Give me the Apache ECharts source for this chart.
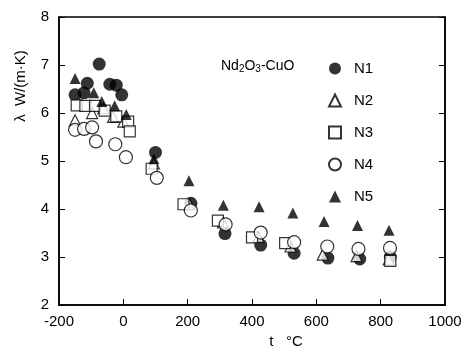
<!DOCTYPE html>
<html>
<head>
<meta charset="utf-8">
<script src="https://cdn.jsdelivr.net/npm/echarts@6/dist/echarts.min.js"></script>
<style>html,body{margin:0;padding:0;background:#fff;}#c{width:467px;height:354px;}</style>
</head>
<body>
<div id="c"></div>
<script>
var xTicks = [-200, 0, 200, 400, 600, 800, 1000];
var yTicks = [2, 3, 4, 5, 6, 7, 8];
var seriesNames = ['N1', 'N2', 'N3', 'N4', 'N5'];
var N1 = [[-150,6.38],[-122,6.42],[-112,6.62],[-75,7.02],[-42,6.6],[-22,6.58],[-5,6.38],[100,5.18],[210,4.12],[316,3.49],[427,3.25],[531,3.08],[636,2.98],[735,2.96],[830,3.0]];
var N2 = [[-150,5.85],[-97,6.0],[-62,6.1],[-32,5.92],[0,5.82],[95,4.95],[205,4.1],[310,3.72],[420,3.42],[520,3.22],[620,3.05],[725,3.02],[825,2.95]];
var N3 = [[-145,6.16],[-118,6.15],[-88,6.15],[-58,6.05],[-22,5.93],[15,5.82],[20,5.62],[88,4.84],[187,4.1],[294,3.76],[400,3.41],[503,3.29],[830,2.92]];
var N4 = [[-150,5.65],[-122,5.67],[-97,5.7],[-85,5.41],[-25,5.35],[8,5.08],[104,4.65],[210,3.97],[318,3.68],[427,3.51],[531,3.31],[634,3.22],[731,3.17],[829,3.19]];
var N5 = [[-150,6.72],[-92,6.42],[-67,6.24],[-27,6.15],[9,5.97],[95,5.05],[204,4.59],[311,4.08],[422,4.05],[527,3.92],[624,3.74],[728,3.66],[826,3.56]];

var font = 'Liberation Sans';
var chart = echarts.init(document.getElementById('c'));
function filled(sym, size){ return {symbol: sym, symbolSize: size, itemStyle: {color: '#000', borderColor: '#000', borderWidth: 0}}; }
function hollow(sym, size){ return {symbol: sym, symbolSize: size, itemStyle: {color: '#fff', borderColor: '#000', borderWidth: 1.2}}; }
var styles = [filled('circle', 13), hollow('triangle', 11), hollow('rect', 11), hollow('circle', 13), filled('triangle', 11)];
var datas = [N1, N2, N3, N4, N5];
var series = seriesNames.map(function(n, i){
  return {name: n, type: 'scatter', data: datas[i], symbol: styles[i].symbol, symbolSize: styles[i].symbolSize, itemStyle: styles[i].itemStyle, emphasis: {disabled: true}, z: [2,3,3,4,5][i]};
});
chart.setOption({
  animation: false,
  backgroundColor: '#fff',
  grid: {left: 59, right: 22, top: 17, bottom: 41, show: true, borderColor: '#000', borderWidth: 1.5, backgroundColor: 'transparent'},
  title: {
    text: '{a|Nd}{s|2}{a|O}{s|3}{a|-CuO}',
    left: 216, top: 53,
    textStyle: {fontWeight: 'normal', rich: {a: {fontFamily: font, fontSize: 14, fontWeight: 'normal', color: '#000'}, s: {fontFamily: font, fontSize: 10, fontWeight: 'normal', color: '#000', verticalAlign: 'bottom', padding: [6,0,0,0]}}}
  },
  legend: {
    orient: 'vertical', left: 323, top: 56,
    itemWidth: 12, itemHeight: 12, itemGap: 17,
    textStyle: {fontFamily: font, fontSize: 15, color: '#000', padding: [0,0,0,8]},
    data: seriesNames
  },
  xAxis: [{
    type: 'value', min: -200, max: 1000, interval: 200,
    name: 't   °C', nameLocation: 'middle', nameGap: 28,
    nameTextStyle: {fontFamily: font, fontSize: 15, color: '#000', padding: [0,0,0,68]},
    axisLine: {show: true, onZero: false, lineStyle: {color: '#000', width: 1.5}},
    axisTick: {show: true, inside: true, length: 6, lineStyle: {color: '#000'}},
    axisLabel: {fontFamily: font, fontSize: 15, color: '#000', margin: 9, formatter: function(v){ return xTicks.indexOf(v) >= 0 ? String(v) : ''; }},
    splitLine: {show: false}
  }],
  yAxis: [{
    type: 'value', min: 2, max: 8, interval: 1,
    name: 'λ  W/(m·K)', nameLocation: 'middle', nameGap: 31, nameRotate: 90,
    nameTextStyle: {fontFamily: font, fontSize: 15, color: '#000', padding: [0,0,0,150]},
    axisLine: {show: true, onZero: false, lineStyle: {color: '#000', width: 1.5}},
    axisTick: {show: true, inside: true, length: 6, lineStyle: {color: '#000'}},
    axisLabel: {fontFamily: font, fontSize: 15, color: '#000', margin: 10, formatter: function(v){ return yTicks.indexOf(v) >= 0 ? String(v) : ''; }},
    splitLine: {show: false}
  }, {
    type: 'value', min: 2, max: 8, interval: 1, position: 'right',
    axisLine: {show: true, onZero: false, lineStyle: {color: '#000', width: 1.5}},
    axisTick: {show: true, inside: true, length: 6, lineStyle: {color: '#000'}},
    axisLabel: {show: false}, splitLine: {show: false}
  }],
  series: series
});
</script>
</body>
</html>
